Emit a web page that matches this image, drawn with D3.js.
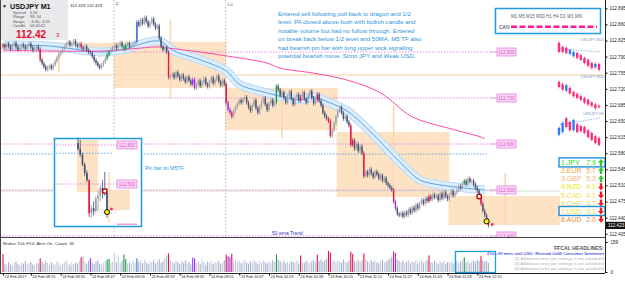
<!DOCTYPE html>
<html><head><meta charset="utf-8">
<script src="https://cdn.jsdelivr.net/npm/d3@7"></script>
<style>
body{margin:0;background:#fff}
svg{display:block;font-family:"Liberation Sans",Arial,sans-serif}
</style></head><body>
<svg id="chart" width="625" height="282"></svg>
<script>
// M1 closes, in 0.001 above 112.000
const closePts = [
815,810,818,812,806,814,820,811,805,809,816,812,807,813,818,810,804,808,812,806,
783,775,768,762,766,770,764,772,780,788,795,800,806,
812,818,822,815,819,824,816,812,818,810,806,812,804,800,798,
790,782,776,770,766,772,778,786,794,800,805,810,
814,808,816,820,812,806,815,819,811,814,818,822,
865,858,870,862,875,866,856,864,872,860,852,857,
830,812,805,810,800,745,748,
752,744,756,748,740,750,742,735,746,738,730,740,722,
730,738,726,734,742,730,725,736,744,732,740,748,736,728,738,730,
690,675,668,660,672,680,688,695,690,698,702,
690,680,672,685,695,678,668,682,692,700,686,674,688,696,684,690,
726,718,705,712,700,690,704,714,698,686,700,708,694,
702,712,698,690,706,715,700,688,696,708,694,684,
668,660,655,650,618,630,645,660,672,680,668,655,660,648,640,
598,608,590,600,585,595,580,530,
540,532,545,536,528,540,534,525,532,520,526,515,510,505,500,475,
460,448,445,450,442,
452,446,458,450,462,455,468,460,472,478,470,482,476,486,480,490,484,
488,478,492,482,495,486,480,490,498,488,494,
500,508,504,515,520,512,525,518,520,512,505,498,486,
470,455,445,433,423];
const firstOpen = 812;

const volumes = [
95,45,38,52,40,33,48,56,42,36,50,44,58,39,47,53,41,35,49,46,
72,55,43,60,48,38,52,45,40,57,49,36,44,51,62,47,39,55,43,50,
46,58,78,84,52,44,60,74,48,41,56,63,45,38,50,57,66,70,49,55,
98,52,88,47,60,92,68,45,53,40,58,48,72,55,62,47,66,52,44,57,
50,63,46,55,68,49,58,72,88,98,62,54,47,60,52,43,56,49,61,45,
53,40,76,72,48,57,44,62,51,38,55,47,60,42,53,49,58,44,51,62,
92,84,78,96,58,66,52,60,47,55,63,50,44,58,49,62,53,41,56,47,
60,52,45,57,49,63,55,94,66,58,50,61,47,55,44,59,52,48,62,46,
88,55,49,60,52,45,57,63,50,92,58,66,54,61,72,112,104,58,64,52,
60,55,48,66,57,50,62,108,96,58,52,64,55,61,98,70,57,49,63,54,
60,52,47,58,64,50,56,62,72,80,108,100,66,58,52,60,48,55,63,47,
58,52,60,45,55,62,50,57,64,88,53,47,58,50,44,56,48,60,42,53,
49,57,45,52,60,47,55,62,78,50,58,46,54,60,52,66,58,84,62,55,
60,48];

const redBars = [0, 20, 42, 89, 120, 123, 160, 169, 175, 176, 187, 188, 194, 210, 229, 257];
const greenBars = [56, 57, 65, 66, 147, 248];
const blueBars = [72];
const purpleBars = [47, 102, 103, 121, 122, 211];

// H1 candles drawn behind the M1 bars
const hourStart = [0, 60, 120, 180, 240];
const hourOpen  = [804, 822, 722, 626, 487];
const hourClose = [820, 722, 630, 485, 424];
const hourHigh  = [822, 870, 722, 685, 537];
const hourLow   = [755, 700, 613, 485, 424];

// dragon (mid) and 50 MA, sampled at bar index
const dragonIdx = [0, 25, 52, 63, 84, 91, 106, 120, 127, 142, 160, 167, 176, 185, 196, 208, 215, 224, 235, 249, 259];
const dragonMid = [815, 813, 800, 804, 824, 804, 783, 759, 730, 711, 696, 702, 689, 672, 633, 583, 554, 522, 511, 504, 500];
const maIdx = [0, 52, 84, 88, 106, 124, 142, 149, 167, 185, 203, 220, 239, 257, 259];
const maVal = [804, 802, 811, 809, 800, 789, 776, 765, 754, 739, 711, 659, 635, 615, 611];

const pinkLevels = [112.800, 112.700, 112.600, 112.500, 112.400];
const blueLevel = 112.578;
const beigeLevel = 112.750;
const greenLevel = 112.500;
const sessionIdx = [60, 120];
const sessionTags = ['F', 'Lo'];

const priceTicks = [112.895, 112.860, 112.825, 112.790, 112.755, 112.720, 112.685, 112.650, 112.615, 112.580, 112.545, 112.510, 112.475, 112.440, 112.405];
const bid = 112.423;
const timeIdx = [0, 15, 31, 47, 63, 79, 95, 111, 127, 143, 159, 175, 191, 207, 223, 239, 255];
const timeLabels = ['24 Feb 2017', '24 Feb 08:15', '24 Feb 08:31', '24 Feb 08:47', '24 Feb 09:03', '24 Feb 09:19', '24 Feb 09:35', '24 Feb 09:51', '24 Feb 10:07', '24 Feb 10:23', '24 Feb 10:39', '24 Feb 10:55', '24 Feb 11:11', '24 Feb 11:27', '24 Feb 11:43', '24 Feb 11:59', '24 Feb 12:15'];

// signals: [bar index, price]
const entryMark = [256, 112.486];
const yellowMark = [260, 112.432];
const redDot = [263, 112.425];

const currencies = ['JPY', 'EUR', 'GBP', 'NZD', 'CAD', 'CHF', 'USD', 'AUD'];
const strengths = [7.9, 5.7, 5.3, 4.1, 4.1, 3.7, 3.1, 2.0];
const currColors = ['#22dd22', '#f5a540', '#f4b07c', '#ecec00', '#f2e244', '#f0d850', '#ece034', '#f38a2a'];
const currUp = [true, true, true, false, false, false, false, false];
const boxedCurr = ['JPY', 'USD'];

// small multi-timeframe charts [open, close] in 0.001 above 112
const mtfM15 = [[820,800],[811,800],[809,798],[796,804],[791,800],[798,787],[793,783],[787,776],[783,770],[776,765],[767,774],[774,761]];
const mtfM30 = [[735,724],[730,718],[716,728],[722,710],[713,704],[709,700],[704,696],[700,690],[696,686],[690,683],[686,678],[683,680]];
const mtfH1  = [[620,635],[626,646],[656,637],[648,630],[630,652],[643,626],[639,628],[637,624],[630,615],[624,609],[617,602],[613,598]];
const mtfNames = ['USDJPY M15', 'USDJPY M30', 'USDJPY H1'];

// M5 inset: open, high, low, close
const insetO = [112.605, 112.590, 112.575, 112.550, 112.528, 112.510, 112.425, 112.438, 112.430, 112.462, 112.470, 112.490, 112.488, 112.478];
const insetH = [112.618, 112.613, 112.580, 112.555, 112.535, 112.512, 112.445, 112.455, 112.470, 112.485, 112.497, 112.510, 112.531, 112.490];
const insetL = [112.585, 112.570, 112.545, 112.520, 112.505, 112.415, 112.413, 112.420, 112.428, 112.433, 112.455, 112.462, 112.470, 112.413];
const insetC = [112.590, 112.575, 112.550, 112.528, 112.510, 112.425, 112.438, 112.430, 112.462, 112.470, 112.490, 112.480, 112.478, 112.428];
const insetRedBars = [5];

const note = [
  'Entered sell following pull back to dragon and 1/2',
  'level. PA closed above both with bullish candle and',
  'notable volume but had no follow through. Entered',
  'on break back below 1/2 level and 50MA. M5 TF also',
  'had bearish pin bar with long upper wick signaling',
  'potential bearish move. Stron JPY and Weak USD.'
];

const svg = d3.select('#chart');
const plotR = 605, mainB = 237, volB = 273;
const px = v => 112 + v / 1000;

const x = d3.scaleLinear().domain([0, closePts.length]).range([3, 3 + closePts.length * 1.86]);
const y = d3.scaleLinear().domain([112.405, 112.895]).range([233.7, 8.3]);
const yv = d3.scaleLinear().domain([0, 159]).range([272, 242]);

svg.append('rect').attr('width', 625).attr('height', 282).attr('fill', '#fff');

const defs = svg.append('defs');
defs.append('clipPath').attr('id', 'mainclip').append('rect')
    .attr('x', 0).attr('y', 0).attr('width', plotR).attr('height', mainB);

const main = svg.append('g').attr('clip-path', 'url(#mainclip)');

// hour bodies
const hours = hourStart.map((s, k) => ({s, o: px(hourOpen[k]), c: px(hourClose[k]), h: px(hourHigh[k]), l: px(hourLow[k])}));
main.selectAll('.hbody').data(hours).enter().append('rect')
    .attr('x', d => d.s === 0 ? 0 : x(d.s) - 1)
    .attr('width', d => Math.min(x(d.s + 60), 560) - (d.s === 0 ? 0 : x(d.s) - 1))
    .attr('y', d => y(Math.max(d.o, d.c)))
    .attr('height', d => y(Math.min(d.o, d.c)) - y(Math.max(d.o, d.c)))
    .attr('fill', '#fde2c4');
main.selectAll('.hwick').data(hours).enter().append('line')
    .attr('x1', d => x(d.s + 30)).attr('x2', d => x(d.s + 30))
    .attr('y1', d => y(d.h)).attr('y2', d => y(d.l))
    .attr('stroke', '#fbd6ae').attr('stroke-width', 1.6);

// level lines
main.append('line').attr('x1', 0).attr('x2', plotR).attr('y1', y(beigeLevel)).attr('y2', y(beigeLevel))
    .attr('stroke', '#f6ddc3').attr('stroke-width', 1.6);
main.append('line').attr('x1', 0).attr('x2', 560).attr('y1', y(greenLevel) + 1).attr('y2', y(greenLevel) + 1)
    .attr('stroke', '#cfe0cc').attr('stroke-width', 1);
main.selectAll('.plev').data(pinkLevels).enter().append('line')
    .attr('x1', 0).attr('x2', 490).attr('y1', d => y(d)).attr('y2', d => y(d))
    .attr('stroke', '#e46fe0').attr('stroke-width', 0.8).attr('stroke-dasharray', '1.5,1.5');
main.selectAll('.plev2').data(pinkLevels).enter().append('line')
    .attr('x1', 490).attr('x2', 497).attr('y1', d => y(d)).attr('y2', d => y(d))
    .attr('stroke', '#e46fe0').attr('stroke-width', 0.8);
const plab = main.selectAll('.plab').data(pinkLevels).enter().append('g')
    .attr('transform', d => `translate(497,${y(d)})`);
plab.append('rect').attr('x', 0).attr('y', -4).attr('width', 19).attr('height', 8)
    .attr('fill', '#fbd9f4').attr('stroke', '#e46fe0').attr('stroke-width', 0.7);
plab.append('text').attr('x', 9.5).attr('y', 2).attr('text-anchor', 'middle')
    .attr('font-size', 4.6).attr('fill', '#e050d0').text(d => d.toFixed(3));
main.append('line').attr('x1', 0).attr('x2', 487).attr('y1', y(blueLevel)).attr('y2', y(blueLevel))
    .attr('stroke', '#3d9be8').attr('stroke-width', 0.8).attr('stroke-dasharray', '1.5,1.5');

// session separators
main.selectAll('.sess').data(sessionIdx).enter().append('line')
    .attr('x1', d => x(d) - 0.5).attr('x2', d => x(d) - 0.5).attr('y1', 0).attr('y2', mainB)
    .attr('stroke', '#9a9a9a').attr('stroke-width', 0.7).attr('stroke-dasharray', '1.5,2');
main.selectAll('.stag').data(sessionIdx).enter().append('text')
    .attr('x', d => x(d) + 1.5).attr('y', 6).attr('font-size', 4.5).attr('fill', '#6677aa')
    .text((d, k) => sessionTags[k]);

// dragon band and 50 MA
const dline = d3.line().x(d => x(d[0])).y(d => y(px(d[1]))).curve(d3.curveCatmullRom);
const dpts = dragonIdx.map((d, k) => [d, dragonMid[k]]);
main.append('path').attr('d', dline(dpts)).attr('fill', 'none').attr('stroke', '#b9dbf7').attr('stroke-width', 9);
main.append('path').attr('d', dline(dpts)).attr('fill', 'none').attr('stroke', '#dcedfc').attr('stroke-width', 7);
main.append('path').attr('d', dline(dpts)).attr('fill', 'none').attr('stroke', '#5aa2ea').attr('stroke-width', 1);
const mpts = maIdx.map((d, k) => [d, maVal[k]]);
main.append('path').attr('d', dline(mpts)).attr('fill', 'none').attr('stroke', '#ff4aa5').attr('stroke-width', 1);

// M1 candles
const bars = closePts.map((v, i) => ({i, o: px(i ? closePts[i - 1] : firstOpen), c: px(v)}));
function barColor(d) {
  if (redBars.includes(d.i)) return '#e0154a';
  if (greenBars.includes(d.i)) return '#1a9a48';
  if (blueBars.includes(d.i)) return '#3a6ee0';
  if (purpleBars.includes(d.i)) return '#9b30f0';
  return d.c >= d.o ? '#a2a2a8' : '#4a5273';
}
const cg = main.append('g');
cg.selectAll('.wick').data(bars).enter().append('line')
    .attr('x1', d => x(d.i)).attr('x2', d => x(d.i))
    .attr('y1', d => y(Math.max(d.o, d.c)) - 2).attr('y2', d => y(Math.min(d.o, d.c)) + 2)
    .attr('stroke', barColor).attr('stroke-width', 0.8);
cg.selectAll('.body').data(bars).enter().append('rect')
    .attr('x', d => x(d.i) - 0.7).attr('width', 1.4)
    .attr('y', d => y(Math.max(d.o, d.c)))
    .attr('height', d => Math.max(1, y(Math.min(d.o, d.c)) - y(Math.max(d.o, d.c))))
    .attr('fill', barColor);

// signal marks
main.append('circle').attr('cx', x(entryMark[0])).attr('cy', y(entryMark[1])).attr('r', 2.3)
    .attr('fill', '#fff').attr('stroke', '#c80000').attr('stroke-width', 1.4);
main.append('circle').attr('cx', x(yellowMark[0])).attr('cy', y(yellowMark[1])).attr('r', 2.6)
    .attr('fill', '#ffee00').attr('stroke', '#111').attr('stroke-width', 1);
main.append('rect').attr('x', x(redDot[0]) - 1.3).attr('y', y(redDot[1]) - 1.3).attr('width', 2.6).attr('height', 2.6)
    .attr('fill', '#ff2255');

main.append('text').attr('x', 272).attr('y', 235).attr('font-size', 5).attr('fill', '#2f2fbf').text('50 ema Trend');

// note text
svg.append('g').selectAll('text').data(note).enter().append('text')
    .attr('x', 278).attr('y', (d, k) => 16 + k * 8.4)
    .attr('font-size', 6.1).attr('fill', '#2b95e0').text(d => d);

// top-left info panel
svg.append('rect').attr('x', 0).attr('y', 0).attr('width', 68).attr('height', 40).attr('fill', '#e9e9ec');
svg.append('text').attr('x', 2).attr('y', 8).attr('font-size', 5).attr('fill', '#222').text('▼');
svg.append('text').attr('x', 10).attr('y', 9).attr('font-size', 7.2).attr('font-weight', 'bold').attr('fill', '#111').text('USDJPY   M1');
const infoK = ['Spread', 'Range', 'Swaps', 'Candle'];
const infoV = ['0.30', '99, 34', '-3.44, -4.55', '00:00:05'];
infoK.forEach((k, n) => {
  svg.append('text').attr('x', 13).attr('y', 14 + n * 4.3).attr('font-size', 3.9).attr('fill', '#555').text(k);
  svg.append('text').attr('x', 30).attr('y', 14 + n * 4.3).attr('font-size', 3.9).attr('fill', '#555').text(infoV[n]);
});
svg.append('text').attr('x', 16).attr('y', 37.5).attr('font-size', 10).attr('font-weight', 'bold').attr('fill', '#e0102e').text('112.42');
svg.append('text').attr('x', 56).attr('y', 37).attr('font-size', 6).attr('fill', '#e0102e').text('3');
svg.append('text').attr('x', 70).attr('y', 6.5).attr('font-size', 4.4).attr('fill', '#222').text('112.423 112.423');

// timeframe legend box
svg.append('rect').attr('x', 495.5).attr('y', 8.5).attr('width', 105).attr('height', 25)
    .attr('fill', '#fff').attr('stroke', '#1e9be0').attr('stroke-width', 1.5);
svg.append('text').attr('x', 511).attr('y', 18).attr('font-size', 4.5).attr('fill', '#55607a').text('M1 M5 M15 M30  H1  H4  D1  W1  MN');
svg.append('text').attr('x', 499).attr('y', 28.5).attr('font-size', 5).attr('fill', '#333').text('CAN');
svg.append('line').attr('x1', 511).attr('x2', 597).attr('y1', 26.8).attr('y2', 26.8)
    .attr('stroke', '#ff1a8c').attr('stroke-width', 2.4).attr('stroke-dasharray', '6,2.5');

// mini timeframe charts
const mtfSets = [mtfM15, mtfM30, mtfH1];
const mtfLabelY = [40.5, 78, 115];
mtfSets.forEach((set, g) => {
  const mx = d3.scaleLinear().domain([0, set.length - 1]).range([559, 599]);
  svg.append('text').attr('x', 604).attr('y', mtfLabelY[g]).attr('text-anchor', 'end')
      .attr('font-size', 3.8).attr('fill', '#7a92c4').text(mtfNames[g]);
  if (g !== 1) {
    svg.append('line').attr('x1', 560).attr('x2', 600)
        .attr('y1', y(px(set[0][0])) + (g ? -10 : 6)).attr('y2', y(px(set[set.length - 1][0])) + (g ? -20 : -12))
        .attr('stroke', '#59a8ee').attr('stroke-width', 0.8).attr('stroke-dasharray', '1.3,1.3');
  }
  set.forEach((c, k) => {
    const o = px(c[0]), cl = px(c[1]);
    const col = cl >= o ? '#2f7cf0' : '#ff2d78';
    svg.append('line').attr('x1', mx(k)).attr('x2', mx(k))
        .attr('y1', y(Math.max(o, cl)) - 1.5).attr('y2', y(Math.min(o, cl)) + 1.5)
        .attr('stroke', k % 4 === 2 ? '#7a3ce0' : col).attr('stroke-width', 0.7);
    svg.append('rect').attr('x', mx(k) - 1.2).attr('width', 2.4)
        .attr('y', y(Math.max(o, cl))).attr('height', Math.max(1, y(Math.min(o, cl)) - y(Math.max(o, cl))))
        .attr('fill', col);
  });
});

// currency strength
const cs = svg.append('g').selectAll('g').data(currencies).enter().append('g')
    .attr('transform', (d, k) => `translate(0,${162.5 + k * 8.1})`);
cs.append('rect').attr('x', 559).attr('y', -4.6).attr('width', 46).attr('height', 9)
    .attr('fill', 'none').attr('stroke', d => boxedCurr.includes(d) ? '#1e90e0' : 'none').attr('stroke-width', 1.4);
cs.append('text').attr('x', 561).attr('y', 2.6).attr('font-size', 7).attr('fill', (d, k) => currColors[k])
    .text((d, k) => (k + 1) + '.' + d);
cs.append('text').attr('x', 596).attr('y', 2.6).attr('text-anchor', 'end').attr('font-size', 7)
    .attr('fill', (d, k) => currColors[k]).text((d, k) => strengths[k].toFixed(1));
cs.append('path')
    .attr('d', (d, k) => currUp[k]
      ? 'M601,-3.5 L604,0 L602.2,0 L602.2,3.5 L599.8,3.5 L599.8,0 L598,0 Z'
      : 'M601,3.5 L604,0 L602.2,0 L602.2,-3.5 L599.8,-3.5 L599.8,0 L598,0 Z')
    .attr('fill', (d, k) => currUp[k] ? '#2ecc2e' : '#ee1c1c');

// M5 inset
const inset = svg.append('g');
inset.append('rect').attr('x', 54.5).attr('y', 138.5).attr('width', 87).attr('height', 88)
    .attr('fill', '#fff').attr('stroke', '#1e9be0').attr('stroke-width', 1.5);
const ix = d3.scaleLinear().domain([0, insetC.length - 1]).range([78, 107]);
const iy = d3.scaleLinear().domain([112.600, 112.500]).range([145, 184]);
inset.append('rect').attr('x', ix(-0.45)).attr('width', ix(9) - ix(-0.45))
    .attr('y', iy(112.613)).attr('height', iy(112.479) - iy(112.613)).attr('fill', '#fde2c4');
inset.append('rect').attr('x', ix(13.9)).attr('width', ix(23.3) - ix(13.9))
    .attr('y', iy(112.485)).attr('height', iy(112.433) - iy(112.485)).attr('fill', '#fde2c4');
inset.append('line').attr('x1', ix(13.9)).attr('x2', ix(13.9)).attr('y1', iy(112.531)).attr('y2', iy(112.400))
    .attr('stroke', '#fbd6ae').attr('stroke-width', 1.4);
[112.600, 112.500].forEach(p => {
  inset.append('line').attr('x1', 56).attr('x2', 117).attr('y1', iy(p)).attr('y2', iy(p))
      .attr('stroke', '#e46fe0').attr('stroke-width', 0.8).attr('stroke-dasharray', '1.5,1.5');
  inset.append('rect').attr('x', 117).attr('y', iy(p) - 4).attr('width', 20).attr('height', 8)
      .attr('fill', '#fbd9f4').attr('stroke', '#e46fe0').attr('stroke-width', 0.7);
  inset.append('text').attr('x', 127).attr('y', iy(p) + 2).attr('text-anchor', 'middle')
      .attr('font-size', 4.6).attr('fill', '#e050d0').text(p.toFixed(3));
});
inset.append('line').attr('x1', 56).attr('x2', 112).attr('y1', iy(112.579)).attr('y2', iy(112.579))
    .attr('stroke', '#3d9be8').attr('stroke-width', 0.8).attr('stroke-dasharray', '1.5,1.5');
[112.433, 112.426].forEach(p => {
  inset.append('line').attr('x1', 87).attr('x2', 117).attr('y1', iy(p)).attr('y2', iy(p))
      .attr('stroke', '#aaa').attr('stroke-width', 0.6).attr('stroke-dasharray', '1,1');
});
inset.append('line').attr('x1', 117).attr('x2', 137).attr('y1', iy(112.397)).attr('y2', iy(112.397))
    .attr('stroke', '#e46fe0').attr('stroke-width', 1);
insetC.forEach((c, k) => {
  const col = insetRedBars.includes(k) ? '#e0154a' : (c >= insetO[k] ? '#9a9aa2' : '#3f4a78');
  inset.append('line').attr('x1', ix(k)).attr('x2', ix(k)).attr('y1', iy(insetH[k])).attr('y2', iy(insetL[k]))
      .attr('stroke', col).attr('stroke-width', 0.8);
  inset.append('rect').attr('x', ix(k) - 0.8).attr('width', 1.6)
      .attr('y', iy(Math.max(insetO[k], c))).attr('height', Math.max(1, iy(Math.min(insetO[k], c)) - iy(Math.max(insetO[k], c))))
      .attr('fill', col);
});
inset.append('circle').attr('cx', ix(12)).attr('cy', iy(112.482)).attr('r', 2.2)
    .attr('fill', '#fff').attr('stroke', '#c80000').attr('stroke-width', 1.3);
inset.append('circle').attr('cx', ix(13)).attr('cy', iy(112.428)).attr('r', 2.5)
    .attr('fill', '#ffee00').attr('stroke', '#111').attr('stroke-width', 1);
inset.append('rect').attr('x', ix(15) - 1.2).attr('y', iy(112.436) - 1.2).attr('width', 2.4).attr('height', 2.4)
    .attr('fill', '#ff2255');
svg.append('text').attr('x', 145).attr('y', 170).attr('font-size', 5.2).attr('fill', '#2b95e0').text('Pin bar on M5TF.');

// frame
svg.append('line').attr('x1', 0.5).attr('x2', 0.5).attr('y1', 0).attr('y2', volB).attr('stroke', '#444');
svg.append('line').attr('x1', 0).attr('x2', plotR).attr('y1', mainB + 0.5).attr('y2', mainB + 0.5).attr('stroke', '#444');

// price axis
const pa = svg.append('g').attr('transform', `translate(${plotR + 0.5},0)`)
    .call(d3.axisRight(y).tickValues(priceTicks).tickSize(2).tickFormat(d3.format('.3f')));
pa.select('.domain').attr('d', `M0,0V${volB}`).attr('stroke', '#222');
pa.selectAll('text').attr('font-size', 4.6).attr('fill', '#222').attr('dx', -1);
svg.append('rect').attr('x', 606).attr('y', y(bid) - 3.6).attr('width', 19).attr('height', 7.2).attr('fill', '#111');
svg.append('text').attr('x', 608).attr('y', y(bid) + 1.7).attr('font-size', 4.6).attr('fill', '#fff').text(bid.toFixed(3));

// tick volume panel
const vg = svg.append('g');
vg.selectAll('rect').data(volumes).enter().append('rect')
    .attr('x', (d, i) => x(i) - 0.55).attr('width', 1.1)
    .attr('y', d => yv(d)).attr('height', d => yv(0) - yv(d))
    .attr('fill', (d, i) => {
      const b = bars[i];
      if (redBars.includes(i)) return '#e0154a';
      if (greenBars.includes(i)) return '#1a9a48';
      if (blueBars.includes(i)) return '#3a6ee0';
      if (purpleBars.includes(i)) return '#9b30f0';
      return b.c >= b.o ? '#c4cbd9' : '#a6b2ca';
    });
const va = svg.append('g').attr('transform', `translate(${plotR + 0.5},0)`)
    .call(d3.axisRight(yv).tickValues([0, 159]).tickSize(2));
va.select('.domain').remove();
va.selectAll('text').attr('font-size', 4.6).attr('fill', '#222');
svg.append('text').attr('x', 3).attr('y', 245).attr('font-size', 4.4).attr('fill', '#333')
    .text('Broker Tick FV4:    Alert On.    Count: 35');

const news = [
  ['FFCAL HEADLINES:', '#555', 5.2, 'bold'],
  ['4 hrs 49 mins until USD: Revised UoM Consumer Sentiment', '#0a0ad8', 4.4, 'normal'],
  ['(2) Additional news per settings is not scheduled', '#b0b0b0', 4.2, 'normal'],
  ['(3) Additional news per settings is not scheduled', '#b0b0b0', 4.2, 'normal'],
  ['(4) Additional news per settings is not scheduled', '#b0b0b0', 4.2, 'normal']
];
svg.append('g').selectAll('text').data(news).enter().append('text')
    .attr('x', 604).attr('y', (d, k) => 249.5 + k * 5).attr('text-anchor', 'end')
    .attr('font-size', d => d[2]).attr('font-weight', d => d[3]).attr('fill', d => d[1]).text(d => d[0]);
svg.append('rect').attr('x', 455.5).attr('y', 251.5).attr('width', 40).attr('height', 21)
    .attr('fill', 'none').attr('stroke', '#1e9be0').attr('stroke-width', 1.3);

// time axis
const ta = svg.append('g').attr('transform', `translate(0,${volB + 0.5})`)
    .call(d3.axisBottom(x).tickValues(timeIdx).tickSize(2).tickFormat((d, k) => timeLabels[k]));
ta.select('.domain').attr('d', `M0,0H${plotR}`).attr('stroke', '#222');
ta.selectAll('text').attr('font-size', 3.9).attr('fill', '#222').attr('text-anchor', 'start').attr('dx', 1).attr('dy', -0.8);
</script></body></html>
